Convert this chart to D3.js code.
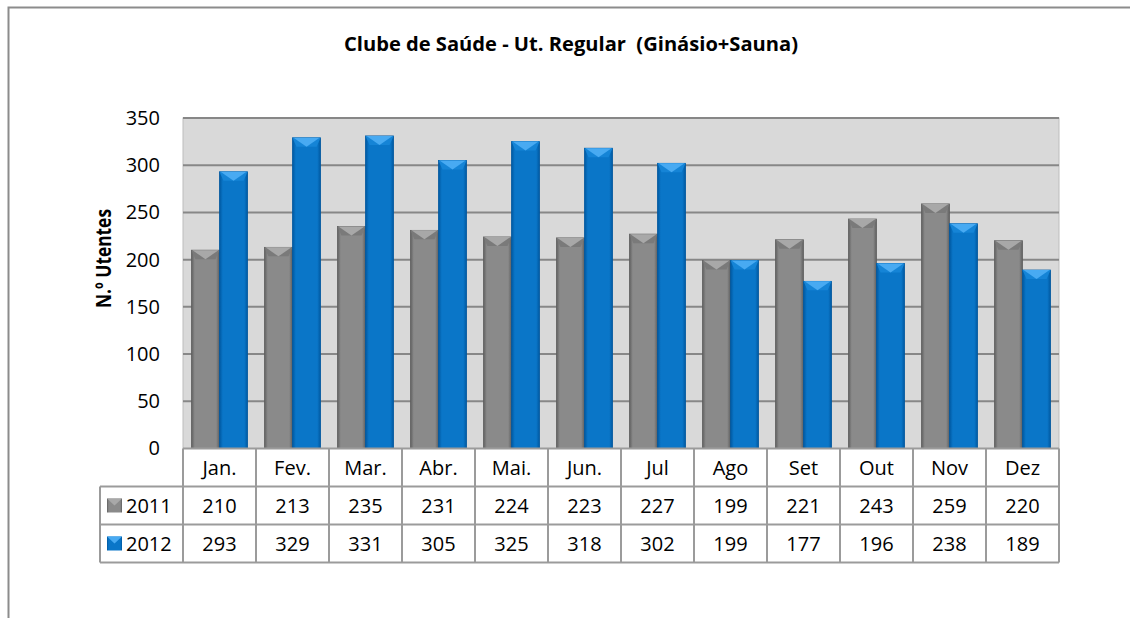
<!DOCTYPE html>
<html>
<head>
<meta charset="utf-8">
<script src="https://cdn.jsdelivr.net/npm/d3@7"></script>
<style>
body{margin:0;background:#fff;}
text{font-family:"Open Sans","Noto Sans",sans-serif;fill:#000;}
</style>
</head>
<body>
<script>
// data
var months=['Jan.','Fev.','Mar.','Abr.','Mai.','Jun.','Jul','Ago','Set','Out','Nov','Dez'];
var years=['2011','2012'];
var v2011=[210,213,235,231,224,223,227,199,221,243,259,220];
var v2012=[293,329,331,305,325,318,302,199,177,196,238,189];
var yTicks=[0,50,100,150,200,250,300,350];
var title='Clube de Saúde - Ut. Regular  (Ginásio+Sauna)';
var yTitle='N.º Utentes';

var W=1130,H=618;
var L=183,R=1059,T=118,B=448.5;
var rowH=38;

var svg=d3.select('body').append('svg').attr('width',W).attr('height',H);
var defs=svg.append('defs');

// bar colours
var pal={
 '2011':{edge:'#5f5f5f',mid:'#8a8a8a',top:'#a8a8a8',side:'#7a7a7a'},
 '2012':{edge:'#0058a0',mid:'#0a76c8',top:'#48aaf2',side:'#1584d6'}
};
years.forEach(function(y){
 var g=defs.append('linearGradient').attr('id','g'+y).attr('x1',0).attr('x2',1).attr('y1',0).attr('y2',0);
 g.append('stop').attr('offset','0%').attr('stop-color',pal[y].edge);
 g.append('stop').attr('offset','12%').attr('stop-color',pal[y].mid);
 g.append('stop').attr('offset','88%').attr('stop-color',pal[y].mid);
 g.append('stop').attr('offset','100%').attr('stop-color',pal[y].edge);
});

// outer frame
svg.append('path').attr('d','M8.5,618 V7.5 H1130').attr('fill','none').attr('stroke','#8c8c8c').attr('stroke-width',2);

var x=d3.scaleBand().domain(months).range([L,R]);
var xs=d3.scaleBand().domain(years).range([0,x.bandwidth()]).paddingOuter(0.3);
var y=d3.scaleLinear().domain([0,350]).range([B,T]);

// plot area
svg.append('rect').attr('x',L).attr('y',T).attr('width',R-L).attr('height',B-T).attr('fill','#d9d9d9')
 .attr('stroke','#bdbdbd').attr('stroke-width',1);

svg.append('g').selectAll('line').data(yTicks.slice(1)).join('line')
 .attr('x1',L).attr('x2',R).attr('y1',function(d){return y(d);}).attr('y2',function(d){return y(d);})
 .attr('stroke','#878787').attr('stroke-width',2);

var yAxis=svg.append('g').attr('transform','translate('+L+',0)')
 .call(d3.axisLeft(y).tickValues(yTicks).tickSize(0).tickPadding(23));
yAxis.select('.domain').remove();
yAxis.selectAll('text').style('font-size','20px').style('font-family','"Open Sans",sans-serif').attr('fill','#000');

// bars
var series=[{key:'2011',vals:v2011},{key:'2012',vals:v2012}];
series.forEach(function(s){
 var g=svg.append('g');
 var bw=xs.bandwidth();
 var bars=g.selectAll('g').data(s.vals).join('g')
  .attr('transform',function(d,i){return 'translate('+(x(months[i])+xs(s.key))+',0)';});
 bars.append('rect').attr('x',0).attr('width',bw)
  .attr('y',function(d){return y(d);}).attr('height',function(d){return B-y(d);})
  .attr('fill','url(#g'+s.key+')').attr('stroke',pal[s.key].edge).attr('stroke-width',0.8);
 var bh=9;
 bars.append('path').attr('d',function(d){var t=y(d);return 'M0,'+t+' L'+bw+','+t+' L'+(bw-4)+','+(t+bh)+' L4,'+(t+bh)+'Z';})
  .attr('fill',pal[s.key].side);
 bars.append('path').attr('d',function(d){var t=y(d);return 'M1,'+t+' L'+(bw-1)+','+t+' L'+(bw/2)+','+(t+bh)+'Z';})
  .attr('fill',pal[s.key].top);
});

// data table
var tc='#9b9b9b';
var tb=svg.append('g');
var rows=[{key:'2011',vals:v2011},{key:'2012',vals:v2012}];
tb.append('line').attr('x1',L).attr('x2',R).attr('y1',B).attr('y2',B).attr('stroke',tc).attr('stroke-width',2);
[1,2,3].forEach(function(k){
 tb.append('line').attr('x1',100).attr('x2',R).attr('y1',B+rowH*k).attr('y2',B+rowH*k).attr('stroke',tc).attr('stroke-width',2);
});
tb.append('line').attr('x1',100).attr('x2',100).attr('y1',B+rowH).attr('y2',B+rowH*3).attr('stroke',tc).attr('stroke-width',2);
tb.selectAll('.vl').data(months.concat(['end'])).join('line')
 .attr('x1',function(d,i){return L+i*x.bandwidth();}).attr('x2',function(d,i){return L+i*x.bandwidth();})
 .attr('y1',B).attr('y2',B+rowH*3).attr('stroke',tc).attr('stroke-width',2);

tb.selectAll('.mt').data(months).join('text')
 .attr('x',function(d){return x(d)+x.bandwidth()/2;}).attr('y',B+rowH/2)
 .attr('text-anchor','middle').attr('dominant-baseline','central').style('font-size','20px').text(function(d){return d;});

rows.forEach(function(r,k){
 var cy=B+rowH*(k+1)+rowH/2;
 tb.selectAll('.v'+k).data(r.vals).join('text')
  .attr('x',function(d,i){return x(months[i])+x.bandwidth()/2;}).attr('y',cy)
  .attr('text-anchor','middle').attr('dominant-baseline','central').style('font-size','20px').text(function(d){return d;});
 // legend key
 tb.append('rect').attr('x',107).attr('y',cy-7).attr('width',15).attr('height',14).attr('fill','url(#g'+r.key+')');
 tb.append('path').attr('d','M107,'+(cy-7)+' L122,'+(cy-7)+' L114.5,'+(cy)+'Z').attr('fill',pal[r.key].top);
 tb.append('text').attr('x',126).attr('y',cy).attr('dominant-baseline','central').style('font-size','20px').text(r.key);
});

// titles (squeezed to Calibri-like widths)
svg.append('text').attr('x',571).attr('y',51).attr('text-anchor','middle')
 .attr('xml:space','preserve').style('white-space','pre')
 .attr('textLength',454).attr('lengthAdjust','spacingAndGlyphs')
 .style('font-size','20px').style('font-weight','bold').text(title);
svg.append('text').attr('transform','translate(111,258.5) rotate(-90)').attr('text-anchor','middle')
 .attr('textLength',99).attr('lengthAdjust','spacingAndGlyphs')
 .style('font-size','21px').style('font-weight','bold').text(yTitle);
</script>
</body>
</html>
